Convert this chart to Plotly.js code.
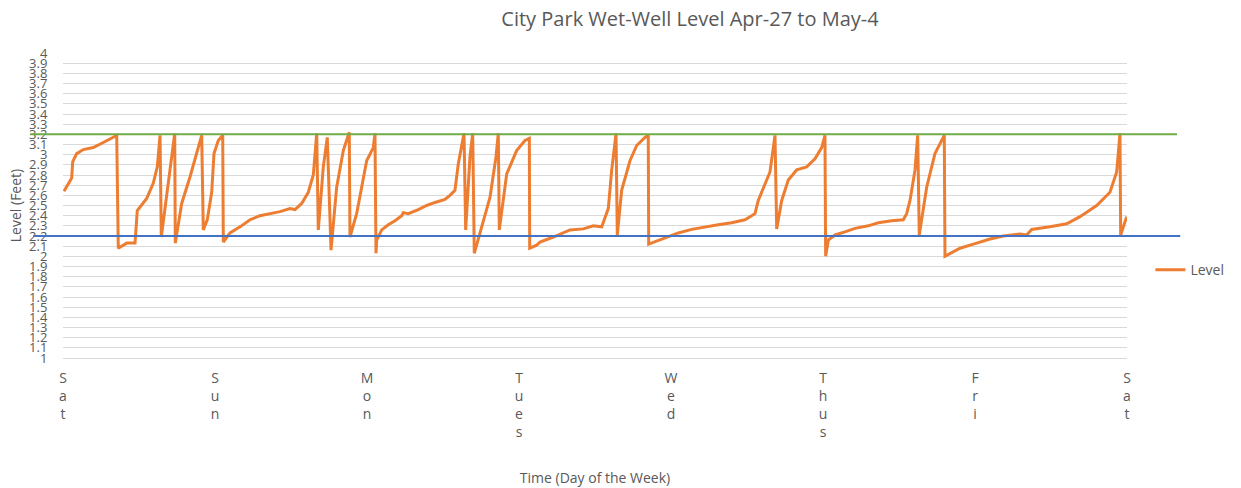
<!DOCTYPE html>
<html>
<head>
<meta charset="utf-8">
<script src="https://cdn.plot.ly/plotly-3.0.1.min.js"></script>
<style>html,body{margin:0;padding:0;background:#fff;}#chart{width:1241px;height:488px;}</style>
</head>
<body>
<div id="chart"></div>
<script>
// Time in hours since Saturday 00:00
const hours = [0.16,1.37,1.53,2.16,3.21,4.78,6.36,7.94,8.48,8.73,10.06,11.37,11.73,13.22,14.26,14.89,15.32,15.52,16.37,17.0,17.64,17.73,18.74,20.05,21.11,21.9,22.15,22.78,23.48,23.84,24.52,25.22,25.31,26.37,27.95,29.53,31.1,32.68,34.26,35.84,36.63,37.69,38.73,39.52,40.06,40.31,41.1,41.73,42.32,43.21,44.26,45.2,45.31,46.37,47.95,48.99,49.26,49.42,49.53,50.32,51.36,52.42,53.48,53.73,54.52,56.1,57.42,58.73,60.31,61.1,61.89,62.42,63.32,63.58,64.26,64.69,64.94,66.11,67.42,68.37,68.73,68.89,70.06,71.63,72.95,73.63,73.69,74.79,75.32,77.42,80.05,82.15,83.73,85.06,86.1,86.64,87.32,87.52,88.21,89.52,90.58,91.89,92.41,92.48,93.99,95.57,97.15,99.26,101.37,103.47,105.58,107.68,108.74,109.26,109.78,111.63,112.42,112.69,113.48,114.52,115.85,117.42,118.73,119.79,120.31,120.42,120.84,121.89,123.47,125.05,127.15,128.73,130.85,132.68,133.21,133.74,134.53,134.95,135.2,136.37,137.68,138.99,139.15,139.26,141.63,144.27,146.37,148.47,151.1,152.16,152.95,155.84,158.48,160.58,163.21,165.31,166.37,166.89,167.0,167.95];
const level = [2.64,2.77,2.93,3.01,3.05,3.07,3.12,3.17,3.19,2.08,2.13,2.13,2.45,2.57,2.72,2.88,3.19,2.19,2.58,2.88,3.21,2.13,2.52,2.78,3.01,3.19,2.26,2.36,2.63,3.01,3.14,3.19,2.14,2.23,2.29,2.36,2.40,2.42,2.44,2.47,2.46,2.52,2.63,2.80,3.21,2.26,2.88,3.17,2.06,2.68,3.04,3.22,2.19,2.42,2.94,3.07,3.21,2.03,2.16,2.26,2.31,2.35,2.40,2.43,2.42,2.46,2.50,2.53,2.56,2.60,2.65,2.91,3.21,2.26,2.98,3.21,2.03,2.29,2.58,2.98,3.21,2.26,2.81,3.04,3.14,3.16,2.08,2.11,2.14,2.19,2.26,2.27,2.30,2.29,2.47,2.85,3.21,2.21,2.65,2.94,3.09,3.17,3.19,2.12,2.155,2.19,2.23,2.265,2.29,2.31,2.33,2.36,2.40,2.42,2.55,2.83,3.19,2.27,2.55,2.75,2.85,2.88,2.96,3.07,3.19,2.00,2.16,2.21,2.24,2.275,2.30,2.33,2.35,2.36,2.42,2.55,2.85,3.19,2.21,2.68,3.01,3.17,3.19,2.00,2.08,2.13,2.17,2.20,2.22,2.21,2.265,2.29,2.32,2.39,2.50,2.63,2.83,3.21,2.21,2.39];
const dayTicks = [0,24,48,72,96,120,144,168];
const dayLabels = ["Sat","Sun","Mon","Tues","Wed","Thus","Fri","Sat"];
const highLevel = 3.2;
const lowLevel = 2.2;

const gray = '#595959';
const font = 'Open Sans, Liberation Sans, sans-serif';

const trace = {
  x: hours, y: level, type: 'scatter', mode: 'lines', name: 'Level',
  line: {color: '#ED7D31', width: 3}
};

const layout = {
  width: 1241, height: 488,
  margin: {l: 63, r: 114, t: 53, b: 130},
  paper_bgcolor: '#fff', plot_bgcolor: '#fff',
  font: {family: font, color: gray, size: 13},
  title: {text: 'City Park Wet-Well Level Apr-27 to May-4', x: 0.556, xanchor: 'center', y: 0.962, yanchor: 'middle',
          font: {family: font, size: 20, color: gray}},
  xaxis: {
    range: [0, 168], tickmode: 'array', tickvals: dayTicks,
    ticktext: dayLabels.map(s => s.split('').join('<br>')),
    showgrid: false, zeroline: false, showline: true, linecolor: '#d9d9d9',
    ticks: 'outside', ticklen: 7, tickcolor: 'rgba(0,0,0,0)',
    tickfont: {size: 14, color: gray},
    title: {text: 'Time (Day of the Week)', font: {size: 14, color: gray}, standoff: 32}
  },
  yaxis: {
    range: [1, 4], dtick: 0.1, tick0: 1,
    showgrid: true, gridcolor: '#d9d9d9', gridwidth: 1, zeroline: false, showline: false,
    ticks: 'outside', ticklen: 12, tickcolor: 'rgba(0,0,0,0)',
    tickfont: {size: 13, color: gray},
    title: {text: 'Level (Feet)', font: {size: 14, color: gray}, standoff: 4}
  },
  showlegend: true,
  legend: {x: 1.022, y: 0.288, xanchor: 'left', yanchor: 'middle', font: {size: 14, color: gray}, bgcolor: 'rgba(0,0,0,0)'},
  shapes: [
    {type: 'line', xref: 'paper', yref: 'y', x0: -0.031, x1: 1.047, y0: highLevel, y1: highLevel, line: {color: '#70AD47', width: 2}},
    {type: 'line', xref: 'paper', yref: 'y', x0: -0.028, x1: 1.05, y0: lowLevel, y1: lowLevel, line: {color: '#4472C4', width: 2}}
  ]
};

Plotly.newPlot('chart', [trace], layout, {displayModeBar: false, staticPlot: true});
</script>
</body>
</html>
